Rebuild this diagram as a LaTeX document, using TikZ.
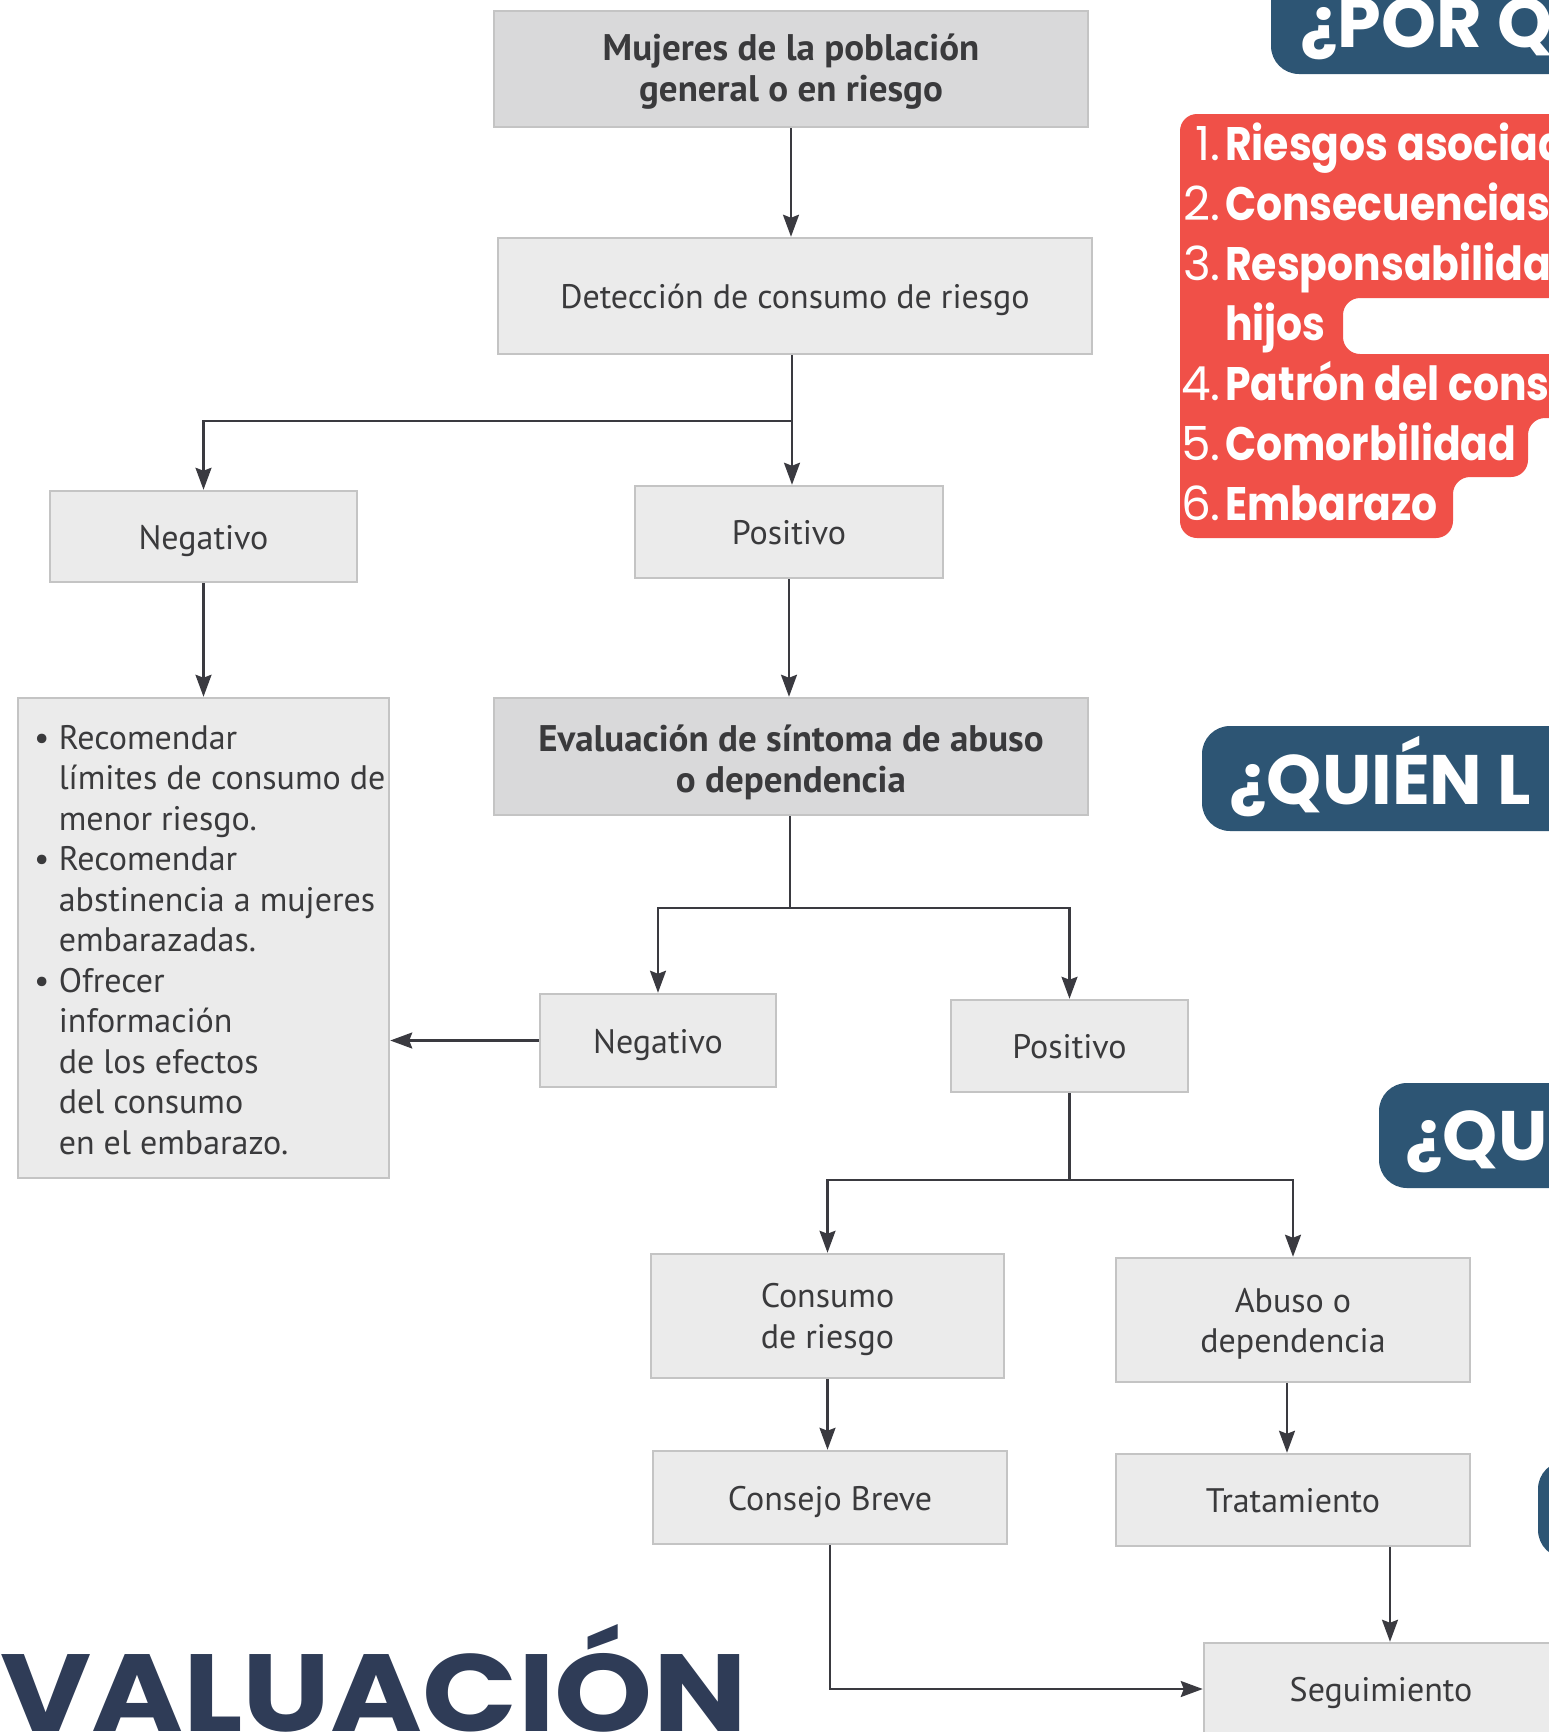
\documentclass[tikz,border=0pt]{standalone}
\usepackage{fontspec}
\usepackage{graphicx}
\usetikzlibrary{arrows.meta}
\newfontfamily\ptsans{PT Sans}
\newfontfamily\pop{Poppins}
\definecolor{txtc}{HTML}{3A3A3C}
\definecolor{linec}{HTML}{3A3A40}
\definecolor{borderc}{HTML}{C4C4C4}
\definecolor{lightf}{HTML}{EBEBEB}
\definecolor{darkf}{HTML}{D9D9DA}
\definecolor{navyc}{HTML}{2D5574}
\definecolor{redc}{HTML}{F05048}
\definecolor{titlec}{HTML}{2F3C57}
\newcommand{\itemsq}[1]{\scalebox{0.87}[1]{#1}}
\begin{document}
\begin{tikzpicture}[x=1pt,y=-1pt,
  boxbase/.style={draw=borderc, line width=2.5pt, fill=lightf, text=txtc, inner sep=0pt, align=center,
    font=\ptsans\fontsize{34}{40.5}\selectfont},
  box/.style={boxbase, execute at begin node={\rule[-8.8pt]{0pt}{43pt}}},
  twoline/.style={boxbase, execute at begin node={\rule{0pt}{72pt}}},
  darkbox/.style={boxbase, fill=darkf, font=\ptsans\bfseries\fontsize{37}{41}\selectfont,
    execute at begin node={\rule{0pt}{#1}}},
  darkbox/.default=80pt,
  arr/.style={draw=linec, line width=2.2pt, -{Stealth[length=22pt,width=16pt,inset=3pt]}},
  ln/.style={draw=linec, line width=2.2pt},
  navytxt/.style={text=white, inner sep=0pt, anchor=base west, font=\pop\bfseries\fontsize{70}{76}\selectfont},
  numtxt/.style={text=white, inner sep=0pt, anchor=base east, font=\pop\fontsize{47}{56}\selectfont},
  itemtxt/.style={text=white, inner sep=0pt, anchor=base west, font=\pop\bfseries\fontsize{47}{56}\selectfont}]
\useasboundingbox (0,0) rectangle (1548,1732);
\fill[white] (0,0) rectangle (1548,1732);

% ---- right side decorations ----
\fill[navyc, rounded corners=28] (1271,-60) rectangle (1640,74);
\node[navytxt] (porq) at (1300,47) {¿POR Q};

\fill[redc, rounded corners=17] (1180,114) -- (1640,114) -- (1640,298) -- (1343,298) -- (1343,354)
  -- (1640,354) -- (1640,418) -- (1528,418) -- (1528,477) -- (1453,477) -- (1453,538) -- (1180,538) -- cycle;
\node[numtxt] (n1) at (1221,160) {1.};
\node[itemtxt] (i1) at (1225,160) {\itemsq{Riesgos asociad}};
\node[numtxt] (n2) at (1221,220) {2.};
\node[itemtxt] (i2) at (1225,220) {\itemsq{Consecuencias}};
\node[numtxt] (n3) at (1221,280) {3.};
\node[itemtxt] (i3) at (1225,280) {\itemsq{Responsabilida}};
\node[itemtxt] (i3b) at (1225,340) {\itemsq{hijos}};
\node[numtxt] (n4) at (1221,400) {4.};
\node[itemtxt] (i4) at (1225,400) {\itemsq{Patrón del cons}};
\node[numtxt] (n5) at (1221,460) {5.};
\node[itemtxt] (i5) at (1225,460) {\itemsq{Comorbilidad}};
\node[numtxt] (n6) at (1221,520) {6.};
\node[itemtxt] (i6) at (1225,520) {\itemsq{Embarazo}};

\fill[navyc, rounded corners=28] (1202,726) rectangle (1640,831);
\node[navytxt] (quien) at (1229,804) {¿QUIÉN L};
\fill[navyc, rounded corners=28] (1379,1083) rectangle (1640,1188);
\node[navytxt] (qu) at (1405,1160) {¿QU};
\fill[navyc, rounded corners=28] (1538,1461) rectangle (1640,1558);

% ---- title ----
\node[inner sep=0pt, anchor=base west, text=titlec] (title) at (0,1731)
  {\resizebox{746pt}{107pt}{\pop\bfseries VALUACIÓN}};

% ---- flowchart nodes ----
\node[darkbox=73pt, minimum width=594, minimum height=116] (top) at (791,69) {Mujeres de la población\\general o en riesgo};
\node[box, minimum width=594, minimum height=116] (det) at (795,296) {Detección de consumo de riesgo};
\node[box, minimum width=307, minimum height=91] (neg1) at (203.5,536.5) {Negativo};
\node[box, minimum width=308, minimum height=92] (pos1) at (789,532) {Positivo};
\node[boxbase, minimum width=371, minimum height=480] (recs) at (203.5,938) {};
\node[inner sep=0pt, anchor=base west, text=txtc, font=\ptsans\fontsize{34}{40.5}\selectfont] (recstxt) at (34,749)
 {\begin{tabular}[t]{@{}l@{}l@{}}
 \makebox[24.6pt][l]{\textbullet} & Recomendar\\
 & límites de consumo de\\
 & menor riesgo.\\
 \makebox[24.6pt][l]{\textbullet} & Recomendar\\
 & abstinencia a mujeres\\
 & embarazadas.\\
 \makebox[24.6pt][l]{\textbullet} & Ofrecer\\
 & información\\
 & de los efectos\\
 & del consumo\\
 & en el embarazo.
 \end{tabular}};
\node[darkbox, minimum width=594, minimum height=117] (eval) at (791,756.5) {Evaluación de síntoma de abuso\\o dependencia};
\node[box, minimum width=236, minimum height=93] (neg2) at (658,1040.5) {Negativo};
\node[box, minimum width=237, minimum height=92] (pos2) at (1069.5,1046) {Positivo};
\node[twoline, minimum width=353, minimum height=124] (cons) at (827.5,1316) {Consumo\\de riesgo};
\node[twoline, minimum width=354, minimum height=124] (abuso) at (1293,1320) {Abuso o\\dependencia};
\node[box, minimum width=354, minimum height=93] (consejo) at (830,1497.5) {Consejo Breve};
\node[box, minimum width=354, minimum height=92] (trat) at (1293,1500) {Tratamiento};
\node[box, minimum width=354, minimum height=92] (seg) at (1381,1689) {Seguimiento};

% ---- connectors ----
\coordinate (j1) at (792,421);
\coordinate (j2) at (790,908);
\coordinate (j3) at (1069.5,1180);
\draw[arr] (top.south) -- (top.south |- det.north);
\draw[ln] (det.south -| j1) -- (j1);
\draw[arr] (j1) -| (neg1.north);
\draw[arr] (j1) -- (j1 |- pos1.north);
\draw[arr] (neg1.south) -- (neg1.south |- recs.north);
\draw[arr] (pos1.south) -- (pos1.south |- eval.north);
\draw[ln] (eval.south -| j2) -- (j2);
\draw[arr] (j2) -| (neg2.north);
\draw[arr] (j2) -| (pos2.north);
\draw[arr] (neg2.west) -- (neg2.west -| recs.east);
\draw[ln] (pos2.south) -- (j3);
\draw[arr] (j3) -| (cons.north);
\draw[arr] (j3) -| (abuso.north);
\draw[arr] (cons.south) -- (cons.south |- consejo.north);
\draw[arr] ([xshift=-6pt]abuso.south) -- ([xshift=-6pt]abuso.south |- trat.north);
\draw[arr] ([xshift=9pt]seg.north |- trat.south) -- ([xshift=9pt]seg.north);
\draw[arr] (consejo.south) |- (seg.west);
\end{tikzpicture}
\end{document}
